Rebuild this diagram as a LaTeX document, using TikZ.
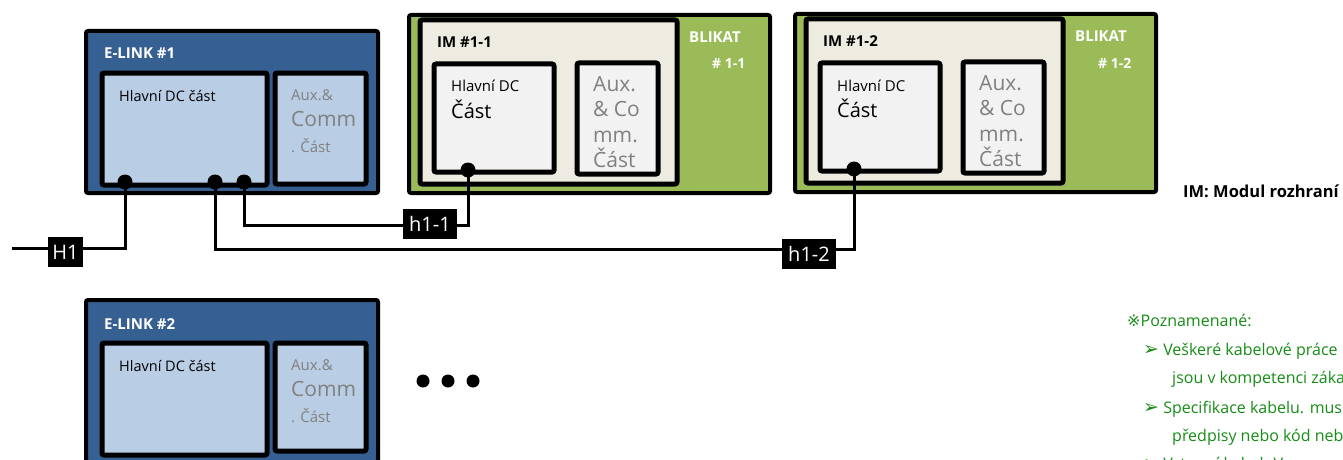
\documentclass[tikz,border=0pt]{standalone}
\usepackage{fontspec}
\setmainfont{Open Sans}
\newfontfamily\symfont{DejaVu Sans}
\definecolor{elinkblue}{RGB}{55,96,146}
\definecolor{lightblue}{RGB}{185,205,229}
\definecolor{imgreen}{RGB}{155,187,89}
\definecolor{cream}{RGB}{238,236,225}
\definecolor{lightgray}{RGB}{242,242,242}
\definecolor{auxgray}{RGB}{128,128,128}
\definecolor{notegreen}{RGB}{22,140,22}
\newcommand\fsz[1]{\fontsize{#1}{#1}\selectfont}
\newcommand\bul{{\symfont\fsz{19}➢}}
\begin{document}
\begin{tikzpicture}[x=1pt,y=-1pt,
  outerbox/.style={draw=black, line width=4, rounded corners=2, anchor=north west, inner sep=0},
  innerbox/.style={draw=black, line width=5, rounded corners=2, anchor=north west, inner sep=0},
  txt/.style={anchor=base west, inner sep=0},
  title/.style={txt, font=\fsz{15}\bfseries},
  auxtxt/.style={txt, text=auxgray},
  dot/.style={circle, fill=black, minimum size=15, inner sep=0},
  bigdot/.style={circle, fill=black, minimum size=13, inner sep=0},
  lbl/.style={fill=black, text=white, font=\fsz{20}, inner sep=0, minimum height=30, minimum width=0},
  wire/.style={line width=3},
  note/.style={txt, text=notegreen, font=\fsz{16}}]
\useasboundingbox (0,0) rectangle (1343,460);
\clip (0,0) rectangle (1343,460);

% ---- E-LINK #1
\node[outerbox, fill=elinkblue, minimum width=292, minimum height=162] (e1) at (84,29) {};
\node[innerbox, fill=lightblue, minimum width=165, minimum height=112] (e1m) at (99.5,70.5) {};
\node[innerbox, fill=lightblue, minimum width=91, minimum height=111] (e1a) at (272.5,70.5) {};
\node[title, text=white] (e1t) at (104,59) {E-LINK \#1};
\node[txt, font=\fsz{14.5}] (e1mt) at (119,101) {Hlavní DC část};
\node[auxtxt, font=\fsz{15}] (e1a1) at (291,100) {Aux.\&};
\node[auxtxt, font=\fsz{21}] (e1a2) at (291,126) {Comm};
\node[auxtxt, font=\fsz{15}] (e1a3) at (291,152) {. Část};

% ---- E-LINK #2
\node[outerbox, fill=elinkblue, minimum width=292, minimum height=162] (e2) at (84,298) {};
\node[innerbox, fill=lightblue, minimum width=165, minimum height=112] (e2m) at (99.5,340.5) {};
\node[innerbox, fill=lightblue, minimum width=91, minimum height=108] (e2a) at (272.5,340.5) {};
\node[title, text=white] (e2t) at (104,329) {E-LINK \#2};
\node[txt, font=\fsz{14.5}] (e2mt) at (119,371) {Hlavní DC část};
\node[auxtxt, font=\fsz{15}] (e2a1) at (291,370) {Aux.\&};
\node[auxtxt, font=\fsz{21}] (e2a2) at (291,396) {Comm};
\node[auxtxt, font=\fsz{15}] (e2a3) at (291,422) {. Část};

% ---- IM #1-1
\node[outerbox, fill=imgreen, minimum width=361, minimum height=178] (im1) at (407,13) {};
\node[innerbox, fill=cream, minimum width=257, minimum height=164] (im1c) at (417.5,17.5) {};
\node[innerbox, fill=lightgray, minimum width=120, minimum height=108] (im1m) at (431.5,61.5) {};
\node[innerbox, fill=lightgray, minimum width=81, minimum height=111] (im1a) at (574.5,60.5) {};
\node[title] (im1t) at (437,48) {IM \#1-1};
\node[txt, font=\fsz{15}] (im1m1) at (451,92) {Hlavní DC};
\node[txt, font=\fsz{20}] (im1m2) at (451,118) {Část};
\node[auxtxt, font=\fsz{21}] (im1a1) at (593,91) {Aux.};
\node[auxtxt, font=\fsz{21}] (im1a2) at (593,116) {\& Co};
\node[auxtxt, font=\fsz{21}] (im1a3) at (593,142) {mm.};
\node[auxtxt, font=\fsz{21}] (im1a4) at (593,167) {Část};
\node[title, text=white] (im1b) at (689,43) {BLIKAT};
\node[txt, text=white, font=\fsz{14}\bfseries] (im1n) at (712,69) {\# 1-1};

% ---- IM #1-2
\node[outerbox, fill=imgreen, minimum width=361, minimum height=178] (im2) at (793,12) {};
\node[innerbox, fill=cream, minimum width=257, minimum height=164] (im2c) at (803.5,16.5) {};
\node[innerbox, fill=lightgray, minimum width=120, minimum height=108] (im2m) at (817.5,60.5) {};
\node[innerbox, fill=lightgray, minimum width=81, minimum height=111] (im2a) at (960.5,59.5) {};
\node[title] (im2t) at (823,47) {IM \#1-2};
\node[txt, font=\fsz{15}] (im2m1) at (837,91) {Hlavní DC};
\node[txt, font=\fsz{20}] (im2m2) at (837,117) {Část};
\node[auxtxt, font=\fsz{21}] (im2a1) at (979,90) {Aux.};
\node[auxtxt, font=\fsz{21}] (im2a2) at (979,115) {\& Co};
\node[auxtxt, font=\fsz{21}] (im2a3) at (979,141) {mm.};
\node[auxtxt, font=\fsz{21}] (im2a4) at (979,166) {Část};
\node[title, text=white] (im2b) at (1075,42) {BLIKAT};
\node[txt, text=white, font=\fsz{14}\bfseries] (im2n) at (1098,68) {\# 1-2};

% ---- labels
\node[lbl, minimum width=35] (H1) at (65.5,252) {H1};
\node[lbl, minimum width=54] (h11) at (430,223.5) {h1-1};
\node[lbl, minimum width=54] (h12) at (809,253.5) {h1-2};

% ---- dot anchors
\coordinate (d1) at (125,182);
\coordinate (d2) at (215,182);
\coordinate (d3) at (244,182);
\coordinate (d4) at (468,170);
\coordinate (d5) at (854,169);

% ---- wires
\coordinate (s) at (12,248);
\coordinate (yA) at (0,248);
\coordinate (yB) at (0,225);
\coordinate (yC) at (0,249);
\draw[wire] (s) -- (H1.west |- yA);
\draw[wire] (d1) |- (H1.east |- yA);
\draw[wire] (d3) |- (h11.west |- yB);
\draw[wire] (h11.east |- yB) -| (d4);
\draw[wire] (d2) |- (h12.west |- yC);
\draw[wire] (h12.east |- yC) -| (d5);

% ---- dots
\node[dot] (p1) at (d1) {};
\node[dot] (p2) at (d2) {};
\node[dot] (p3) at (d3) {};
\node[dot] (p4) at (d4) {};
\node[dot] (p5) at (d5) {};

% ---- ellipsis
\node[bigdot] (m1) at (423,381) {};
\node[bigdot] (m2) at (448,381) {};
\node[bigdot] (m3) at (473,381) {};

% ---- legend and notes
\node[txt, font=\fsz{16.5}\bfseries] (leg) at (1183,197) {IM: Modul rozhraní};
\node[note] (n0) at (1127,326) {{\symfont ※}Poznamenané:};
\node[note] (n1) at (1143,355) {\bul\ Veškeré kabelové práce};
\node[note] (n2) at (1172,383) {jsou v kompetenci zákazníka.};
\node[note] (n3) at (1143,413) {\bul\ Specifikace kabelu. musí};
\node[note] (n4) at (1172,441) {předpisy nebo kód nebo};
\node[note] (n5) at (1143,469) {\bul\ Vstupní kabel. V};
\end{tikzpicture}
\end{document}
